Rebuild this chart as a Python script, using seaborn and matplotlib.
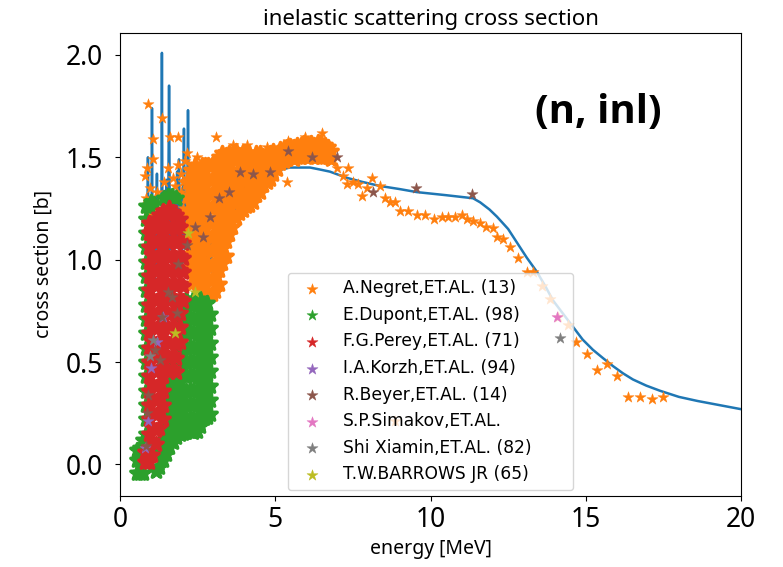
import matplotlib
matplotlib.use("Agg")
import matplotlib.pyplot as plt
import seaborn as sns

# ---------------- evaluated curve ----------------
eval_e = [0.85, 0.88, 0.90, 0.92, 0.95, 0.98, 1.01, 1.03, 1.05, 1.08, 1.12, 1.16, 1.19, 1.22,
          1.26, 1.30, 1.33, 1.35, 1.37, 1.40, 1.44, 1.48, 1.50, 1.52, 1.55, 1.58, 1.61, 1.65,
          1.70, 1.74, 1.78, 1.82, 1.84, 1.86, 1.90, 1.93, 1.97, 2.00, 2.03, 2.06, 2.09, 2.12,
          2.16, 2.19, 2.22, 2.26, 2.32, 2.40, 2.48, 2.56, 2.65, 2.75, 2.85, 2.93, 3.00, 3.05,
          3.12, 3.20, 3.30, 3.42, 3.54, 3.65, 3.77, 3.87, 3.96, 4.05, 4.15, 4.28, 4.40, 4.48,
          4.57, 4.67, 4.80, 4.93, 5.20, 5.47, 5.80, 6.12, 6.45, 6.76, 7.30, 7.80, 8.37, 9.00,
          9.56, 10.50, 11.37, 11.60, 11.90, 12.14, 12.50, 12.80, 13.10, 13.43, 13.70, 13.95,
          14.30, 14.60, 14.90, 15.23, 15.55, 15.88, 16.20, 16.52, 16.95, 17.39, 18.00, 18.60,
          19.30, 20.00]
eval_s = [0.30, 0.95, 1.50, 0.90, 0.70, 1.10, 0.80, 1.74, 0.90, 1.20, 0.85, 1.10, 1.42, 0.95,
          1.25, 0.90, 1.05, 2.01, 1.00, 1.30, 1.10, 1.20, 1.39, 1.00, 1.15, 1.85, 1.05, 1.25,
          1.00, 1.30, 1.10, 1.25, 1.43, 1.10, 1.49, 1.15, 1.30, 1.05, 1.25, 1.64, 1.10, 1.30,
          1.15, 1.73, 1.20, 1.35, 1.10, 1.25, 1.05, 1.20, 1.00, 1.15, 0.95, 1.10, 0.87, 0.95,
          1.05, 0.98, 1.12, 1.05, 1.19, 1.22, 1.26, 1.31, 1.33, 1.36, 1.38, 1.34, 1.28, 1.30,
          1.36, 1.40, 1.42, 1.43, 1.44, 1.45, 1.45, 1.45, 1.44, 1.43, 1.40, 1.38, 1.36, 1.345,
          1.33, 1.315, 1.30, 1.28, 1.245, 1.21, 1.15, 1.08, 1.01, 0.94, 0.87, 0.80,
          0.73, 0.67, 0.61, 0.56, 0.52, 0.48, 0.445, 0.415, 0.385, 0.36, 0.33, 0.31,
          0.29, 0.27]

# ---------------- experimental data (energy, [cross sections]) ----------------
negret_sparse_cols = [
    (0.80, [1.41]), (0.84, [1.30, 1.20]), (0.87, [1.45]), (0.90, [1.76]), (0.93, [1.22, 1.05]),
    (0.98, [1.35]), (1.03, [1.19, 1.10]), (1.06, [1.59, 1.49]), (1.12, [1.25]), (1.20, [1.33]),
    (1.30, [1.20]), (1.35, [1.69]), (1.42, [1.38]), (1.50, [1.27]), (1.55, [1.45]),
    (1.61, [1.60]), (1.70, [1.30, 1.40]), (1.78, [1.36]), (1.87, [1.60, 1.46]),
    (1.95, [1.42, 1.33]), (2.02, [1.25, 1.38]), (2.08, [1.48, 1.30]),
    (2.16, [1.52, 1.40, 1.22, 1.10]), (2.48, [1.50]), (3.10, [1.60]), (3.64, [1.56]),
    (4.09, [1.56]), (4.73, [1.55]), (5.38, [1.38]), (5.41, [1.58]), (5.96, [1.60]),
    (6.50, [1.62]),
    (6.99, [1.45]), (7.18, [1.41]), (7.31, [1.37]), (7.34, [1.45]), (7.50, [1.38]),
    (7.67, [1.37]), (7.80, [1.31]), (7.95, [1.35]), (8.10, [1.40]), (8.37, [1.36]),
    (8.53, [1.30]), (8.70, [1.28]), (8.86, [1.28, 0.21]), (9.02, [1.24]), (9.27, [1.24]),
    (9.56, [1.22]), (9.82, [1.22]), (10.10, [1.20]), (10.37, [1.21]), (10.56, [1.21]),
    (10.80, [1.21]), (11.00, [1.22]), (11.18, [1.20]), (11.37, [1.19]), (11.60, [1.18]),
    (11.80, [1.16]), (12.00, [1.155]), (12.13, [1.11]), (12.34, [1.10]), (12.56, [1.06]),
    (12.82, [1.01]), (13.10, [0.94]), (13.30, [0.94]), (13.60, [0.87]), (13.85, [0.81]),
    (14.10, [0.72]), (14.43, [0.68]), (14.70, [0.60]), (15.03, [0.54]), (15.36, [0.46]),
    (15.68, [0.49]), (16.00, [0.43]), (16.37, [0.33]), (16.75, [0.33]), (17.13, [0.32]),
    (17.49, [0.33]),
]
negret_dense_cols = [
    (2.19, [0.96, 1.03, 1.10, 1.17, 1.24, 1.31, 1.38]),
    (2.30, [0.88, 0.95, 1.02, 1.09, 1.16, 1.23, 1.30, 1.37, 1.44]),
    (2.41, [0.915, 0.985, 1.055, 1.125, 1.195, 1.265, 1.335, 1.405, 1.46]),
    (2.52, [0.88, 0.95, 1.02, 1.09, 1.16, 1.23, 1.30, 1.37, 1.44]),
    (2.63, [0.845, 0.915, 0.985, 1.055, 1.125, 1.195, 1.265, 1.335, 1.405, 1.46]),
    (2.74, [0.84, 0.91, 0.98, 1.05, 1.12, 1.19, 1.26, 1.33, 1.40, 1.46]),
    (2.85, [0.835, 0.905, 0.975, 1.045, 1.115, 1.185, 1.255, 1.325, 1.395, 1.46]),
    (2.96, [0.83, 0.90, 0.97, 1.04, 1.11, 1.18, 1.25, 1.32, 1.39, 1.46]),
    (3.07, [0.845, 0.915, 0.985, 1.055, 1.125, 1.195, 1.265, 1.335, 1.405, 1.475]),
    (3.18, [0.88, 0.95, 1.02, 1.09, 1.16, 1.23, 1.30, 1.37, 1.44, 1.50]),
    (3.29, [0.985, 1.055, 1.125, 1.195, 1.265, 1.335, 1.405, 1.475, 1.52]),
    (3.40, [1.02, 1.09, 1.16, 1.23, 1.30, 1.37, 1.44, 1.51]),
    (3.51, [1.125, 1.195, 1.265, 1.335, 1.405, 1.475, 1.52]),
    (3.62, [1.16, 1.23, 1.30, 1.37, 1.44, 1.51]),
    (3.73, [1.205, 1.275, 1.345, 1.415, 1.485, 1.53]),
    (3.84, [1.23, 1.30, 1.37, 1.44, 1.51]),
    (3.95, [1.245, 1.315, 1.385, 1.455, 1.525]),
    (4.06, [1.26, 1.33, 1.40, 1.47, 1.52]),
    (4.17, [1.265, 1.335, 1.405, 1.475, 1.52]),
    (4.28, [1.28, 1.35, 1.42, 1.49]),
    (4.39, [1.315, 1.385, 1.455, 1.52]),
    (4.50, [1.33, 1.40, 1.47, 1.52]),
    (4.61, [1.365, 1.435, 1.505]),
    (4.72, [1.38, 1.45, 1.51]),
    (4.83, [1.395, 1.465, 1.52]),
    (4.94, [1.42, 1.49, 1.53]),
    (5.05, [1.445, 1.515]),
    (5.16, [1.47, 1.54]),
    (5.27, [1.48, 1.545]),
    (5.38, [1.49, 1.55]),
    (5.49, [1.50, 1.555]),
    (5.60, [1.49, 1.55]),
    (5.71, [1.50, 1.56]),
    (5.82, [1.50, 1.56]),
    (5.93, [1.505, 1.57]),
    (6.04, [1.50, 1.56]),
    (6.15, [1.505, 1.57]),
    (6.26, [1.50, 1.56]),
    (6.37, [1.505, 1.575]),
    (6.48, [1.50, 1.57]),
    (6.59, [1.50, 1.56]),
    (6.70, [1.50, 1.55]),
    (6.81, [1.49, 1.53]),
]

dupont_cols = [
    (0.55, [-0.04, 0.02, 0.07]),
    (0.64, [-0.04, 0.02, 0.08]),
    (0.73, [-0.04, 0.02, 0.08, 0.12]),
    (0.84, [0.15, 0.22, 0.29, 0.36, 0.43, 0.50, 0.57, 0.64, 0.71, 0.78, 0.85, 0.92, 0.99,
            1.06, 1.13, 1.20, 1.26]),
    (0.92, [1.26]), (1.00, [1.28]), (1.10, [1.27]),
    (1.15, [-0.03]),
    (1.26, [-0.01, 0.06]),
    (1.37, [0.02, 0.09, 0.16]),
    (1.42, [1.30]),
    (1.48, [0.05, 0.12, 0.19, 0.26, 0.33, 0.40]),
    (1.55, [1.31]),
    (1.59, [0.085, 0.155, 0.225, 0.295, 0.365, 0.435]),
    (1.68, [1.31]),
    (1.70, [0.11, 0.18, 0.25, 0.32, 0.39, 0.46]),
    (1.80, [1.30]),
    (1.81, [0.135, 0.205, 0.275, 0.345, 0.415, 0.485]),
    (1.92, [0.15, 0.22, 0.29, 0.36, 0.43, 0.50, 0.57, 0.64, 0.71, 0.78]),
    (2.03, [0.155, 0.225, 0.295, 0.365, 0.435, 0.505, 0.575, 0.645, 0.715, 0.785]),
    (2.14, [0.16, 0.22, 0.29, 0.36, 0.43, 0.50, 0.57, 0.64, 0.71, 0.78, 0.81]),
    (2.25, [0.165, 0.225, 0.295, 0.365, 0.435, 0.505, 0.575, 0.645, 0.715, 0.785]),
    (2.36, [0.16, 0.22, 0.29, 0.36, 0.43, 0.50, 0.57, 0.64, 0.71, 0.78, 0.81]),
    (2.47, [0.165, 0.225, 0.295, 0.365, 0.435, 0.505, 0.575, 0.645, 0.715, 0.785]),
    (2.58, [0.19, 0.26, 0.33, 0.40, 0.47, 0.54, 0.61, 0.68, 0.75, 0.81]),
    (2.69, [0.225, 0.295, 0.365, 0.435, 0.505, 0.575, 0.645, 0.715, 0.785]),
    (2.80, [0.23, 0.30, 0.37, 0.44, 0.51, 0.58, 0.65, 0.72, 0.79]),
    (2.91, [0.245, 0.315, 0.385, 0.455, 0.525, 0.595, 0.665, 0.735]),
]

perey_cols = [
    (0.82, [0.01, 0.06]),
    (0.93, [0.01, 0.08, 0.15, 0.22, 0.29, 0.36, 0.43, 0.50, 0.57, 0.64, 0.71, 0.78, 0.85,
            0.92, 0.99, 1.06, 1.13, 1.18]),
    (1.04, [0.045, 0.115, 0.185, 0.255, 0.325, 0.395, 0.465, 0.535, 0.605, 0.675, 0.745,
            0.815, 0.885, 0.955, 1.025, 1.095, 1.165]),
    (1.15, [0.10, 0.17, 0.24, 0.31, 0.38, 0.45, 0.52, 0.59, 0.66, 0.73, 0.80, 0.87, 0.94,
            1.01, 1.08, 1.15, 1.20]),
    (1.26, [0.18, 0.255, 0.325, 0.395, 0.465, 0.535, 0.605, 0.675, 0.745, 0.815, 0.885,
            0.955, 1.025, 1.095, 1.165, 1.22]),
    (1.37, [0.22, 0.29, 0.36, 0.43, 0.50, 0.57, 0.64, 0.71, 0.78, 0.85, 0.92, 0.99, 1.06,
            1.13, 1.20, 1.24]),
    (1.48, [0.465, 0.535, 0.605, 0.675, 0.745, 0.815, 0.885, 0.955, 1.025, 1.095, 1.165,
            1.23]),
    (1.59, [0.45, 0.52, 0.59, 0.66, 0.73, 0.80, 0.87, 0.94, 1.01, 1.08, 1.15, 1.22, 1.25]),
    (1.70, [0.465, 0.535, 0.605, 0.675, 0.745, 0.815, 0.885, 0.955, 1.025, 1.095, 1.165,
            1.235]),
    (1.81, [0.45, 0.52, 0.59, 0.66, 0.73, 0.80, 0.87, 0.94, 1.01, 1.08, 1.15, 1.22]),
    (1.92, [0.60, 0.67, 0.74, 0.81, 0.88, 0.95, 1.02, 1.09, 1.16, 1.20]),
    (2.02, [0.80, 0.87, 0.94, 1.01, 1.08]),
]

korzh_e = [1.38, 1.18, 1.00, 0.90, 0.80]
korzh_s = [0.72, 0.60, 0.47, 0.21, 0.08]

beyer_e = [0.84, 0.87, 0.90, 1.13, 1.29, 1.35, 1.55, 1.67, 1.83, 1.87, 2.16, 2.42, 2.68,
           2.90, 3.19, 3.51, 3.86, 4.28, 4.83, 5.41, 6.18, 6.99, 8.15, 9.53, 11.34]
beyer_s = [0.09, 0.25, 0.34, 0.56, 0.51, 0.72, 0.84, 0.82, 0.74, 0.98, 1.07, 1.16, 1.11,
           1.21, 1.30, 1.33, 1.43, 1.42, 1.43, 1.53, 1.50, 1.50, 1.33, 1.35, 1.32]

simakov_e = [14.07]
simakov_s = [0.72]

shi_e = [0.97, 1.07, 14.17]
shi_s = [0.53, 0.61, 0.62]

barrows_e = [1.77, 2.19, 2.42]
barrows_s = [0.64, 1.13, 0.84]

labels = ["A.Negret,ET.AL. (13)", "E.Dupont,ET.AL. (98)", "F.G.Perey,ET.AL. (71)",
          "I.A.Korzh,ET.AL. (94)", "R.Beyer,ET.AL. (14)", "S.P.Simakov,ET.AL.",
          "Shi Xiamin,ET.AL. (82)", "T.W.BARROWS JR (65)"]
colors = ["C1", "C2", "C3", "C4", "C5", "C6", "C7", "C8"]


def flatten(cols):
    es, ss = [], []
    for e, vals in cols:
        for v in vals:
            es.append(e)
            ss.append(v)
    return es, ss


plt.rcParams['font.family'] = ['DejaVu Sans']
LABEL_FONT = "Noto Sans"

fig = plt.figure(figsize=(7.83, 5.67), dpi=100)
ax = fig.add_axes([120 / 783, 1 - 496 / 567, 621 / 783, 463 / 567])

sns.lineplot(x=eval_e, y=eval_s, ax=ax, color="C0", linewidth=1.8,
             sort=False, estimator=None, zorder=1)

SMALL = 70
BIG, BIG_LW = 100, 2.6
groups = [
    [(flatten(negret_dense_cols), True), (flatten(negret_sparse_cols), False)],
    [(flatten(dupont_cols), True)],
    [(flatten(perey_cols), True)],
    [((korzh_e, korzh_s), False)],
    [((beyer_e, beyer_s), False)],
    [((simakov_e, simakov_s), False)],
    [((shi_e, shi_s), False)],
    [((barrows_e, barrows_s), False)],
]

for i, (grp, lab, col) in enumerate(zip(groups, labels, colors)):
    for j, ((xs, ys), dense) in enumerate(grp):
        sns.scatterplot(x=xs, y=ys, ax=ax, marker="*",
                        s=BIG if dense else SMALL, color=col, edgecolor=col,
                        linewidth=BIG_LW if dense else 0.3,
                        label=lab if j == 0 else None, zorder=2 + i)

ax.set_xlim(0, 20)
ax.set_ylim(-0.154, 2.107)
ax.set_xticks([0, 5, 10, 15, 20])
ax.set_yticks([0.0, 0.5, 1.0, 1.5, 2.0])
ax.set_yticklabels(["0.0", "0.5", "1.0", "1.5", "2.0"])
ax.tick_params(labelsize=19)
ax.tick_params(axis="y", pad=8.5)
for t in ax.get_xticklabels() + ax.get_yticklabels():
    t.set_fontfamily(LABEL_FONT)

ax.set_title("inelastic scattering cross section", fontsize=16, family=LABEL_FONT)
ax.set_xlabel("energy [MeV]", fontsize=14, family=LABEL_FONT)
ax.set_ylabel("cross section [b]", fontsize=14, family=LABEL_FONT, labelpad=9)

ax.text(0.771, 0.829, "(n, inl)", transform=ax.transAxes, ha="center", va="center",
        fontsize=29, fontweight="bold", family="Open Sans")

leg = ax.legend(loc="lower left", bbox_to_anchor=(168 / 621, 6 / 463, 285 / 621, 0.3),
                mode="expand", borderaxespad=0, fontsize=12.3)
for h in leg.legend_handles:
    h.set_sizes([SMALL])
    h.set_linewidth(0.3)

fig.savefig("out.png", dpi=100)
